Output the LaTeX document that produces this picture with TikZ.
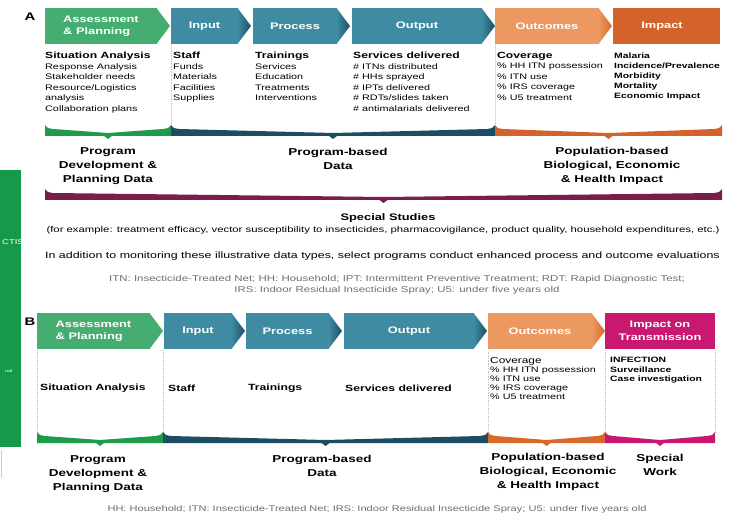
\documentclass[tikz,border=0pt]{standalone}
\usepackage{fontspec}
\setmainfont{Liberation Sans}[FakeStretch=1.35]
\usetikzlibrary{positioning}

\definecolor{planGreen}{HTML}{45AD70}
\definecolor{planGreenDark}{HTML}{1E9A4B}
\definecolor{progTeal}{HTML}{3F8CA2}
\definecolor{progNavy}{HTML}{1B4D64}
\definecolor{outcOrange}{HTML}{EC9961}
\definecolor{outcOrangeDark}{HTML}{D8692A}
\definecolor{impOrange}{HTML}{D4632B}
\definecolor{transPink}{HTML}{C8186F}
\definecolor{studyPurple}{HTML}{7A1D4D}
\definecolor{sideGreen}{HTML}{16994A}
\definecolor{noteGray}{HTML}{6E6E6E}

\newcommand{\headfont}{\fontsize{9}{11}\selectfont\bfseries}
% name, body colour, tip colour, left x, tip x, top y, bottom y, text
\newcommand{\stagechevron}[8]{%
  \fill[#2] (#4,#6) rectangle ({#5-13},#7);
  \shade[left color=#2,right color=#3] ({#5-13.5},#6) -- (#5,{(#6+#7)/2}) -- ({#5-13.5},#7) -- cycle;
  \node[headtext] (#1) at ({(#4+#5-13)/2},{(#6+#7)/2}) {#8};
}
% colour, left x, right x, top y
\newcommand{\databar}[4]{%
  \fill[#1] (#2,#4) .. controls ({#2+2},{#4+3}) .. ({#2+8},{#4+4})
    -- ({(#2+#3)/2},{#4+8}) -- ({#3-8},{#4+4}) .. controls ({#3-2},{#4+3}) .. (#3,#4)
    -- (#3,{#4+11}) -- ({(#2+#3)/2+4},{#4+11}) -- ({(#2+#3)/2},{#4+14})
    -- ({(#2+#3)/2-4},{#4+11}) -- (#2,{#4+11}) -- cycle;
}

\begin{document}
\begin{tikzpicture}[x=1pt,y=-1pt]
  \tikzset{
    headtext/.style={text=white,font=\fontsize{9.5}{12.5}\selectfont\bfseries,align=left,inner sep=0pt},
    itemlist/.style={anchor=north west,align=left,inner sep=0pt,font=\fontsize{8}{10.5}\selectfont},
    itemsmall/.style={itemlist,font=\fontsize{8}{9}\selectfont},
    datalabel/.style={align=center,inner sep=0pt,font=\fontsize{10}{14}\selectfont\bfseries},
    sepline/.style={gray!45,densely dotted,line width=0.6pt},
    panelmark/.style={font=\fontsize{11}{13}\selectfont\bfseries,inner sep=0pt},
    notetext/.style={align=center,inner sep=0pt,text=noteGray,font=\fontsize{8.5}{11}\selectfont}
  }
  \useasboundingbox (0,0) rectangle (731,518);

  % cut-off side panel
  \fill[sideGreen] (0,170) rectangle (21,447);
  \node[text=white,inner sep=0pt,font=\fontsize{7}{8}\selectfont,anchor=west] (sideA) at (2,242) {CTIS};
  \node[text=white,inner sep=0pt,font=\fontsize{4}{5}\selectfont,anchor=west] (sideB) at (5,371) {nal};
  \draw[gray!40] (1,450) -- (1,478);

  % ---- panel A ----
  \node[panelmark] (markA) at (30,17) {A};
  \stagechevron{assessA}{planGreen}{planGreen}{45}{170}{8}{44}{Assessment\\\& Planning}
  \stagechevron{inputA}{progTeal}{progNavy}{171}{251}{8}{44}{Input}
  \stagechevron{processA}{progTeal}{progNavy}{253}{350}{8}{44}{Process}
  \stagechevron{outputA}{progTeal}{progNavy}{352}{495}{8}{44}{Output}
  \stagechevron{outcomeA}{outcOrange}{outcOrangeDark}{495}{612}{8}{44}{Outcomes}
  \fill[impOrange] (613,8) rectangle (720,44);
  \node[headtext] (impactA) at (662,26) {Impact};

  \draw[sepline] (171,45) -- (171,125);
  \draw[sepline] (495,45) -- (495,125);

  \node[itemlist] (colA1) at (45,52) {{\headfont Situation Analysis}\\Response Analysis\\Stakeholder needs\\Resource/Logistics\\analysis\\Collaboration plans};
  \node[itemlist] (colA2) at (173,52) {{\headfont Staff}\\Funds\\Materials\\Facilities\\Supplies};
  \node[itemlist] (colA3) at (255,52) {{\headfont Trainings}\\Services\\Education\\Treatments\\Interventions};
  \node[itemlist] (colA4) at (353,52) {{\headfont Services delivered}\\\# ITNs distributed\\\# HHs sprayed\\\# IPTs delivered\\\# RDTs/slides taken\\\# antimalarials delivered};
  \node[itemlist] (colA5) at (497,52) {{\headfont Coverage}\\\% HH ITN possession\\\% ITN use\\\% IRS coverage\\\% U5 treatment};
  \node[itemlist,font=\fontsize{7.7}{10}\selectfont\bfseries] (colA6) at (614,53) {Malaria\\Incidence/Prevalence\\Morbidity\\Mortality\\Economic Impact};

  \databar{planGreenDark}{45}{171}{125}
  \databar{progNavy}{171}{495}{125}
  \databar{impOrange}{495}{722}{125}

  \node[datalabel] (dataA1) at (108,166) {Program\\Development \&\\Planning Data};
  \node[datalabel] (dataA2) at (338,159) {Program-based\\Data};
  \node[datalabel] (dataA3) at (612,166) {Population-based\\Biological, Economic\\\& Health Impact};

  \databar{studyPurple}{45}{722}{189}
  \node[inner sep=0pt,font=\fontsize{9.5}{11}\selectfont\bfseries] (studies) at (388,218) {Special Studies};
  \node[inner sep=0pt,font=\fontsize{8.4}{9}\selectfont] (studyEx) at (383,230) {(for example: treatment efficacy, vector susceptibility to insecticides, pharmacovigilance, product quality, household expenditures, etc.)};
  \node[inner sep=0pt,font=\fontsize{9.2}{10}\selectfont,anchor=west] (enhanced) at (45,256) {In addition to monitoring these illustrative data types, select programs conduct enhanced process and outcome evaluations};
  \node[notetext] (noteA) at (397,285) {ITN: Insecticide-Treated Net; HH: Household; IPT: Intermittent Preventive Treatment; RDT: Rapid Diagnostic Test;\\IRS: Indoor Residual Insecticide Spray; U5: under five years old};

  % ---- panel B ----
  \node[panelmark] (markB) at (30,322) {B};
  \stagechevron{assessB}{planGreen}{planGreen}{37}{163}{313}{349}{Assessment\\\& Planning}
  \stagechevron{inputB}{progTeal}{progNavy}{164}{245}{313}{349}{Input}
  \stagechevron{processB}{progTeal}{progNavy}{246}{342}{313}{349}{Process}
  \stagechevron{outputB}{progTeal}{progNavy}{344}{487}{313}{349}{Output}
  \stagechevron{outcomeB}{outcOrange}{outcOrangeDark}{488}{605}{313}{349}{Outcomes}
  \fill[transPink] (605,313) rectangle (715,349);
  \node[headtext,align=center] (impactB) at (660,331) {Impact on\\Transmission};

  \foreach \sx in {37,163,488,605,715}
    \draw[sepline] (\sx,350) -- (\sx,432);

  \node[inner sep=0pt,anchor=west,font=\headfont] (colB1) at (40,388) {Situation Analysis};
  \node[inner sep=0pt,anchor=west,font=\headfont] (colB2) at (168,388) {Staff};
  \node[inner sep=0pt,anchor=west,font=\headfont] (colB3) at (248,388) {Trainings};
  \node[inner sep=0pt,anchor=west,font=\headfont] (colB4) at (345,388) {Services delivered};
  \node[itemsmall] (colB5) at (490,357) {{\fontsize{8.8}{9}\selectfont Coverage}\\\% HH ITN possession\\\% ITN use\\\% IRS coverage\\\% U5 treatment};
  \node[itemsmall,font=\fontsize{7.7}{9.5}\selectfont\bfseries] (colB6) at (610,357) {INFECTION\\Surveillance\\Case investigation};

  \databar{planGreenDark}{37}{163}{432}
  \databar{progNavy}{163}{488}{432}
  \databar{outcOrangeDark}{488}{605}{432}
  \databar{transPink}{605}{715}{432}

  \node[datalabel] (dataB1) at (98,474) {Program\\Development \&\\Planning Data};
  \node[datalabel] (dataB2) at (322,466) {Program-based\\Data};
  \node[datalabel] (dataB3) at (548,472) {Population-based\\Biological, Economic\\\& Health Impact};
  \node[datalabel] (dataB4) at (660,465) {Special\\Work};
  \node[notetext,font=\fontsize{8.2}{10}\selectfont] (noteB) at (377,509) {HH: Household; ITN: Insecticide-Treated Net; IRS: Indoor Residual Insecticide Spray; U5: under five years old};
\end{tikzpicture}
\end{document}
